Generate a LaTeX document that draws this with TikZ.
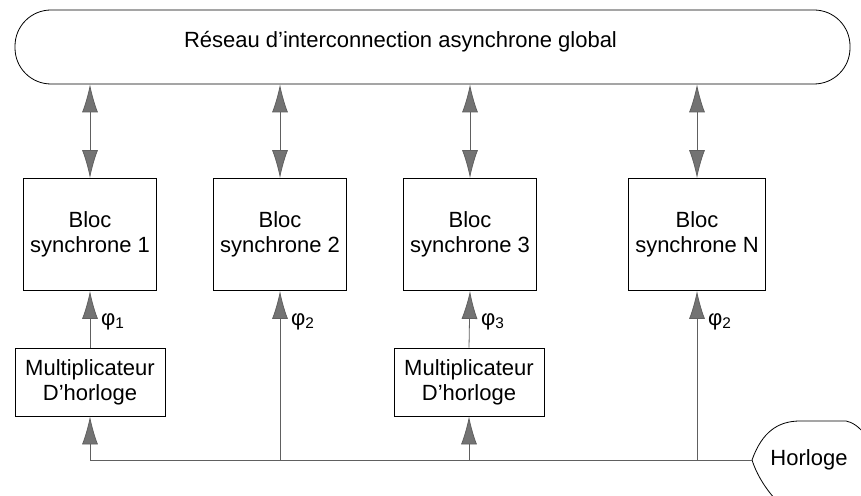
\documentclass[tikz,border=0pt]{standalone}
\usepackage{fontspec}
\setmainfont{Liberation Sans}
\usetikzlibrary{arrows.meta}

\tikzset{
    bloc/.style={draw, fill=white, minimum width=66.5pt, minimum height=56pt, align=center},
    multi/.style={draw, fill=white, minimum width=75pt, minimum height=34pt, align=center},
    pointe/.tip={Latex[length=14pt,width=8pt,fill=black!55]},
    lien/.style={draw=gray!75!black, thin},
    fleche/.style={lien, -pointe},
    double fleche/.style={lien, pointe-pointe},
    phase/.style={right, xshift=2pt}
}

\begin{document}
\begin{tikzpicture}[x=0.5pt, y=-0.5pt, font=\fontsize{11}{12.5}\selectfont]
    \useasboundingbox (0,0) rectangle (861,496);
    \clip (0,0) rectangle (861,496);

    % reseau asynchrone
    \node[draw, rounded corners=18pt, minimum width=417.5pt, minimum height=37pt,
        label={[xshift=-16pt, yshift=2.5pt]center:Réseau d'interconnection asynchrone global}]
        (reseau) at (432.5,47) {};

    % blocs synchrones
    \foreach \n/\x in {1/90, 2/280, 3/470, N/697}
    {
        \node[bloc] (bloc\n) at (\x,234.5) {Bloc\\synchrone \n};
        \draw[double fleche] (bloc\n.north |- reseau.south) -- (bloc\n.north);
    }

    % multiplicateurs
    \node[multi] (mult1) at (90,382) {Multiplicateur\\D'horloge};
    \node[multi] (mult3) at (469,382) {Multiplicateur\\D'horloge};

    % horloge
    \coordinate (hl) at (752,460);
    \draw[fill=white] (hl) .. controls (762,432) and (778,421) .. (800,421) -- (846,421)
        .. controls (858,423) and (875,440) .. (878,470) -- (878,520) -- (800,520)
        .. controls (780,508) and (760,485) .. (hl) -- cycle;
    \node (horloge) at (809,460) {Horloge};

    % distribution d'horloge
    \coordinate (niv) at (0,322);
    \draw[fleche] (hl) -- (mult1.south |- hl) -- (mult1.south);
    \draw[fleche] (bloc2.south |- hl) -- (bloc2.south);
    \draw[fleche] (mult3.south |- hl) -- (mult3.south);
    \draw[fleche] (blocN.south |- hl) -- (blocN.south);
    \draw[fleche] (mult1.north) -- (bloc1.south);
    \draw[fleche] (mult3.north) -- (bloc3.south);

    \node[phase] (phi1) at (bloc1.south |- niv) {φ\textsubscript{1}};
    \node[phase] (phi2) at (bloc2.south |- niv) {φ\textsubscript{2}};
    \node[phase] (phi3) at (bloc3.south |- niv) {φ\textsubscript{3}};
    \node[phase] (phiN) at (blocN.south |- niv) {φ\textsubscript{2}};

\end{tikzpicture}
\end{document}
